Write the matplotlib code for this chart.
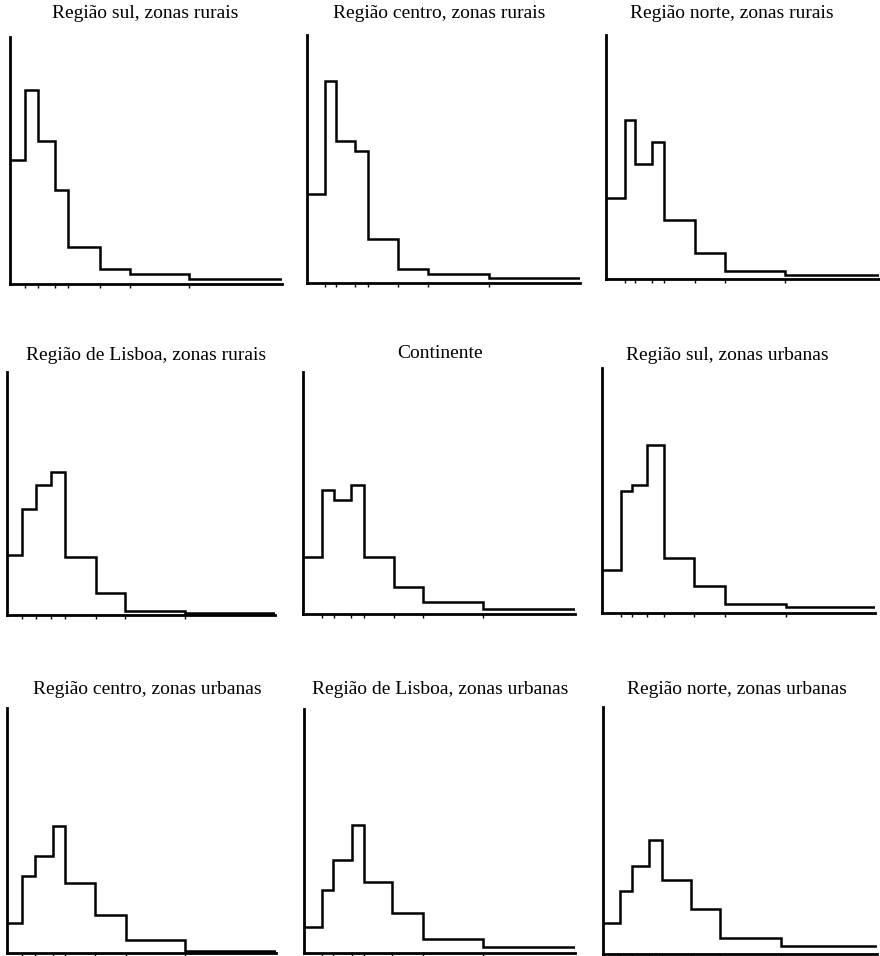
import matplotlib.pyplot as plt

# titles of the nine panels (row by row)
panel_titles = ["Região sul, zonas rurais", "Região centro, zonas rurais",
                "Região norte, zonas rurais", "Região de Lisboa, zonas rurais",
                "Continente", "Região sul, zonas urbanas",
                "Região centro, zonas urbanas", "Região de Lisboa, zonas urbanas",
                "Região norte, zonas urbanas"]

# class limits (unequal widths), read per panel from the drawing
sul_rural_edges = [0, 1.0, 1.9, 3.0, 3.9, 6.0, 8.0, 12, 18.2]
centro_rural_edges = [0, 1.2, 1.93, 3.18, 4.0, 6.0, 8.0, 12, 18.0]
norte_rural_edges = [0, 1.25, 1.96, 3.08, 3.93, 6.0, 8.0, 12, 18.35]
lisboa_rural_edges = [0, 1.04, 1.94, 3.0, 3.94, 6.0, 7.95, 12, 18.1]
continente_edges = [0, 1.27, 2.07, 3.22, 4.04, 6.07, 8.0, 12, 18.1]
sul_urb_edges = [0, 1.22, 1.93, 2.96, 4.04, 6.0, 8.0, 12, 17.8]
centro_urb_edges = [0, 1.04, 1.91, 3.11, 3.94, 5.97, 8.0, 12, 18.15]
lisboa_urb_edges = [0, 1.23, 1.97, 3.2, 4.03, 5.93, 8.0, 12, 18.2]
norte_urb_edges = [0, 1.17, 1.98, 3.08, 3.98, 5.92, 7.88, 12, 18.5]

# frequency density (% of axis height)
sul_rural = [50.4, 78.4, 57.8, 38.0, 15.1, 6.1, 3.9, 1.9]
centro_rural = [35.7, 81.4, 57.2, 53.2, 17.9, 5.8, 3.8, 2.0]
norte_rural = [33.2, 65.2, 47.2, 56.3, 24.0, 10.6, 3.4, 1.8]
lisboa_rural = [24.5, 43.7, 53.6, 58.7, 23.7, 8.9, 1.7, 0.9]
continente = [23.7, 51.4, 47.0, 53.2, 23.4, 11.3, 5.1, 1.9]
sul_urb = [17.7, 49.7, 52.1, 68.4, 22.6, 11.2, 3.8, 2.3]
centro_urb = [12.2, 31.6, 39.5, 51.7, 28.6, 15.5, 5.4, 1.0]
lisboa_urb = [10.7, 26.0, 38.0, 52.6, 29.1, 16.4, 5.7, 2.5]
norte_urb = [12.4, 25.5, 35.6, 46.1, 29.9, 18.1, 6.3, 3.2]

all_edges = [sul_rural_edges, centro_rural_edges, norte_rural_edges,
             lisboa_rural_edges, continente_edges, sul_urb_edges,
             centro_urb_edges, lisboa_urb_edges, norte_urb_edges]
all_heights = [sul_rural, centro_rural, norte_rural, lisboa_rural, continente,
               sul_urb, centro_urb, lisboa_urb, norte_urb]

W, H = 880, 956
# axes boxes in pixels: left, right, top, bottom (scan is slightly skewed)
boxes = [(10, 282, 37, 284), (307, 580, 35, 283), (606, 879, 35, 279),
         (7, 275, 372, 615), (303, 575, 372, 614), (602, 875, 368, 613),
         (7, 276, 708, 953), (304, 575, 709, 953), (603, 877, 707, 954)]
# title centres in pixels
title_pos = [(145, 14), (439, 14), (732, 14),
             (146, 355), (440, 353), (727, 355),
             (147, 690), (440, 690), (737, 690)]

fig = plt.figure(figsize=(W / 100, H / 100), dpi=100)
fig.patch.set_facecolor("white")

for i in range(9):
    l, r, t, b = boxes[i]
    ax = fig.add_axes([l / W, 1 - b / H, (r - l) / W, (b - t) / H])
    edges = all_edges[i]
    ax.stairs(all_heights[i], edges, baseline=None, color="black", linewidth=1.8)
    ax.set_xlim(0, edges[-1])
    ax.set_ylim(0, 100)
    for side in ["top", "right"]:
        ax.spines[side].set_visible(False)
    for side in ["left", "bottom"]:
        ax.spines[side].set_linewidth(2.0)
        ax.spines[side].set_color("black")
    ax.set_xticks(edges[1:-1])
    ax.set_xticklabels([])
    ax.set_yticks([])
    ax.tick_params(axis="x", direction="out", length=3, width=1, color="black")
    ax.patch.set_alpha(0)
    x, y = title_pos[i]
    fig.text(x / W, 1 - y / H, panel_titles[i], ha="center", va="center",
             fontsize=14, family="Liberation Serif", color="black")

fig.savefig("out.png", dpi=100, facecolor="white")
